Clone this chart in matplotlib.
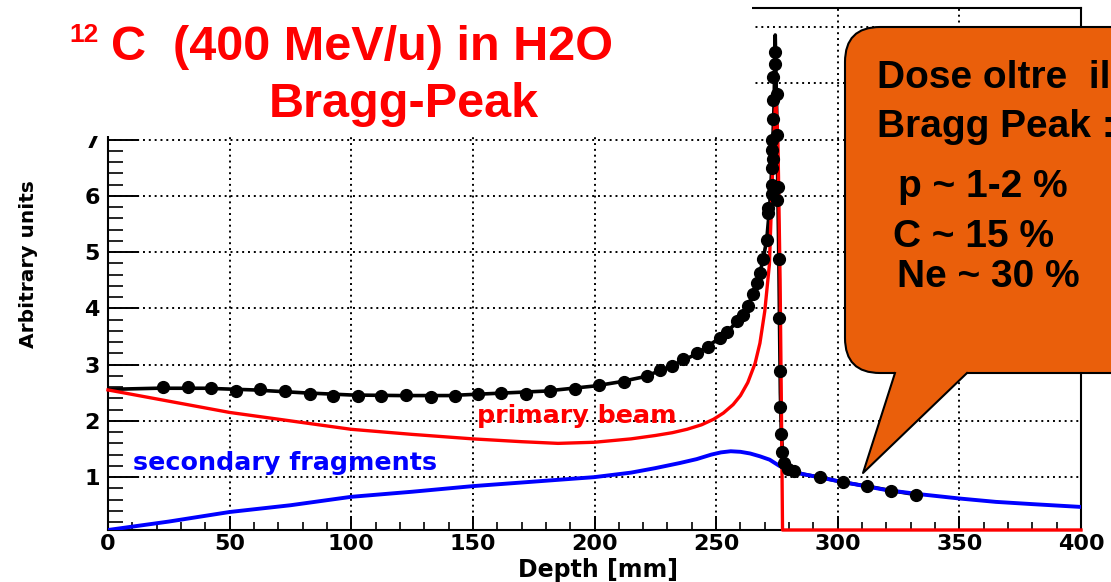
import numpy as np
import matplotlib
matplotlib.use('Agg')
import matplotlib.pyplot as plt
from matplotlib.patches import Rectangle, FancyBboxPatch, Polygon
from matplotlib.lines import Line2D
from matplotlib.transforms import IdentityTransform
from matplotlib.ticker import MultipleLocator

# total dose (black line)
total_x = [0, 20, 40, 60, 80, 100, 120, 140, 160, 180, 200, 210, 220, 230, 240, 245,
           250, 255, 260, 263, 266, 268, 269.3, 270.8, 272, 273, 273.8, 274.3,
           274.9, 275.4, 275.8, 276.1, 276.4, 276.8, 277.3, 278, 279.5, 282, 286,
           292.5, 302, 312, 322, 332]
total_y = [2.56, 2.58, 2.58, 2.55, 2.50, 2.46, 2.45, 2.45, 2.49, 2.53, 2.62, 2.69, 2.78,
           2.94, 3.15, 3.28, 3.43, 3.60, 3.83, 4.04, 4.35, 4.63, 4.87, 5.22, 5.8, 6.6,
           7.6, 8.86, 7.5, 6.0, 4.8, 3.6, 2.5, 1.8, 1.45, 1.27, 1.16, 1.10, 1.05,
           1.0, 0.91, 0.84, 0.76, 0.69]

# measured points (black dots)
dots_x = [22.6, 32.9, 42.5, 52.7, 62.3, 72.6, 82.9, 92.5, 102.7, 112.3, 122.6, 132.9,
          142.5, 152, 161.7, 172, 181.8, 192, 202, 212, 221.4, 227, 231.7, 236.5, 242,
          246.8, 251.6, 254.3, 258.4, 261.1, 263.2, 265.2, 266.6, 268, 269.3, 270.8,
          271.4, 271.4, 272.8, 272.8, 272.8, 273.5, 272.8, 272.8, 273.5, 273.5, 273.5,
          274.2, 274.2, 274.9, 274.9, 274.9, 275.5, 275.8, 276.0, 276.1, 276.3, 276.6,
          277.0, 277.8, 279.5, 282, 292.5, 302, 312, 322, 332]
dots_y = [2.60, 2.60, 2.58, 2.53, 2.56, 2.53, 2.47, 2.44, 2.44, 2.44, 2.46, 2.43,
          2.45, 2.47, 2.50, 2.47, 2.54, 2.57, 2.64, 2.69, 2.80, 2.90, 2.98, 3.10, 3.21,
          3.31, 3.47, 3.58, 3.77, 3.89, 4.04, 4.25, 4.45, 4.63, 4.87, 5.22,
          5.69, 5.78, 6.04, 6.19, 6.49, 6.66, 6.81, 6.99, 7.37, 7.70, 8.11,
          8.35, 8.55, 7.81, 7.08, 5.93, 6.16, 4.87, 3.83, 2.89, 2.24, 1.76,
          1.44, 1.26, 1.15, 1.11, 1.0, 0.91, 0.84, 0.76, 0.69]

# primary beam (red)
primary_x = [0, 25, 50, 75, 100, 125, 150, 170, 185, 200, 215, 225, 232, 238, 244, 249,
             253, 257, 260, 263, 266, 268, 270, 271.9, 272.8, 273.6, 274.3, 274.7,
             275.4, 276.3, 277.0, 277.3, 300, 350, 400]
primary_y = [2.55, 2.35, 2.15, 2.0, 1.85, 1.76, 1.68, 1.63, 1.60, 1.62, 1.68, 1.74,
             1.79, 1.85, 1.93, 2.03, 2.14, 2.29, 2.45, 2.68, 3.02, 3.38, 3.95, 4.78,
             5.9, 6.9, 7.55, 7.62, 7.0, 4.5, 1.5, 0.06, 0.06, 0.06, 0.06]

# secondary fragments (blue)
frag_x = [0, 25, 50, 75, 100, 125, 150, 175, 200, 215, 225, 235, 242, 248, 252, 256,
          260, 264, 268, 272, 276, 280, 285, 292, 300, 310, 320, 335, 350, 365, 380, 400]
frag_y = [0.06, 0.21, 0.38, 0.50, 0.65, 0.74, 0.84, 0.92, 1.0, 1.08, 1.16, 1.25, 1.32,
          1.40, 1.44, 1.46, 1.45, 1.42, 1.37, 1.31, 1.20, 1.12, 1.06, 1.0, 0.93, 0.85,
          0.77, 0.69, 0.62, 0.56, 0.52, 0.47]

x_ticks = [0, 50, 100, 150, 200, 250, 300, 350, 400]
y_ticks = [1, 2, 3, 4, 5, 6, 7, 8, 9]
callout_lines = ["Dose oltre  il", "Bragg Peak :", "p ~ 1-2 %", "C ~ 15 %", "Ne ~ 30 %"]

W, H = 1111, 582
fig = plt.figure(figsize=(W / 100, H / 100), dpi=100)
ax = fig.add_axes([108 / W, 1 - 530 / H, 973 / W, 522 / H])

ax.plot(total_x, total_y, '-', color='black', lw=2.6, zorder=2)
ax.plot(primary_x, primary_y, '-', color='#ff0000', lw=2.4, zorder=3, clip_on=False)
ax.plot(frag_x, frag_y, '-', color='#0000ff', lw=2.8, zorder=3)
ax.plot(dots_x, dots_y, 'o', color='black', ms=8.5, zorder=4)

ax.set_xlim(0, 400)
ax.set_ylim(0.06, 9.34)
ax.set_xticks(x_ticks)
ax.set_yticks(y_ticks)
ax.xaxis.set_minor_locator(MultipleLocator(10))
ax.yaxis.set_minor_locator(MultipleLocator(0.2))
ax.tick_params(axis='x', which='major', direction='in', length=10, width=1.4,
               labelsize=16, pad=3)
ax.tick_params(axis='x', which='minor', direction='in', length=5.5, width=1.2)
ax.tick_params(axis='y', which='major', direction='in', length=21.5, width=1.4,
               labelsize=16, pad=6)
ax.tick_params(axis='y', which='minor', direction='in', length=10.5, width=1.2)
for lab in ax.get_xticklabels() + ax.get_yticklabels():
    lab.set_fontweight('bold')
for s in ax.spines.values():
    s.set_linewidth(1.5)
ax.grid(True, which='major', color='black', lw=1.4, linestyle=(0, (1, 2)))
ax.set_axisbelow(True)

ax.set_xlabel('Depth [mm]', fontsize=17, fontweight='bold', va='center')
ax.xaxis.set_label_coords(0.5036, -0.0766)
ax.set_ylabel('Arbitrary units', fontsize=14.5, fontweight='bold', va='center')
ax.yaxis.set_label_coords(-0.082, 0.51)

ax.text(151.6, 1.97, 'primary beam', color='#ff0000', fontsize=18.3,
        fontweight='bold', va='baseline', zorder=5)
ax.text(10.3, 1.12, 'secondary fragments', color='#0000ff', fontsize=18.3,
        fontweight='bold', va='baseline', zorder=5)

# white band over the top-left of the plot, where the title sits
fig.add_artist(Rectangle((0, 1 - 136 / H), 752 / W, 136 / H, facecolor='white',
                         edgecolor='none', transform=fig.transFigure, zorder=5))

tfont = dict(family=['Liberation Sans', 'DejaVu Sans'], fontweight='bold',
             color='#ff0000', va='baseline', zorder=6)
fig.text(69 / W, 1 - 42 / H, '12', fontsize=19, **tfont)
fig.text(111 / W, 1 - 60 / H, 'C  (400 MeV/u) in H2O', fontsize=35, **tfont)
fig.text(404 / W, 1 - 117 / H, 'Bragg-Peak', fontsize=35, ha='center', **tfont)

# callout
pix = IdentityTransform()
fig.add_artist(FancyBboxPatch((845, H - 373), 330, 346,
                              boxstyle='round,pad=0,rounding_size=35',
                              facecolor='#ea5f0b', edgecolor='black', lw=1.5,
                              transform=pix, zorder=7))
fig.add_artist(Polygon([(893, H - 368), (969, H - 368), (967, H - 373), (863, H - 473),
                        (895, H - 373)], closed=True, facecolor='#ea5f0b',
                       edgecolor='none', transform=pix, zorder=8))
fig.add_artist(Line2D([895, 863, 967], [H - 373, H - 473, H - 373], color='black',
                      lw=1.5, transform=pix, zorder=8))

cx = [877, 877, 898, 893, 897]
cy = [88, 137, 197, 247, 287]
for t, x0, y0 in zip(callout_lines, cx, cy):
    fig.text(x0 / W, 1 - y0 / H, t, fontsize=28, family=['Liberation Sans', 'DejaVu Sans'],
             fontweight='bold', color='black', va='baseline', zorder=9)

fig.savefig('out.png', dpi=100)
